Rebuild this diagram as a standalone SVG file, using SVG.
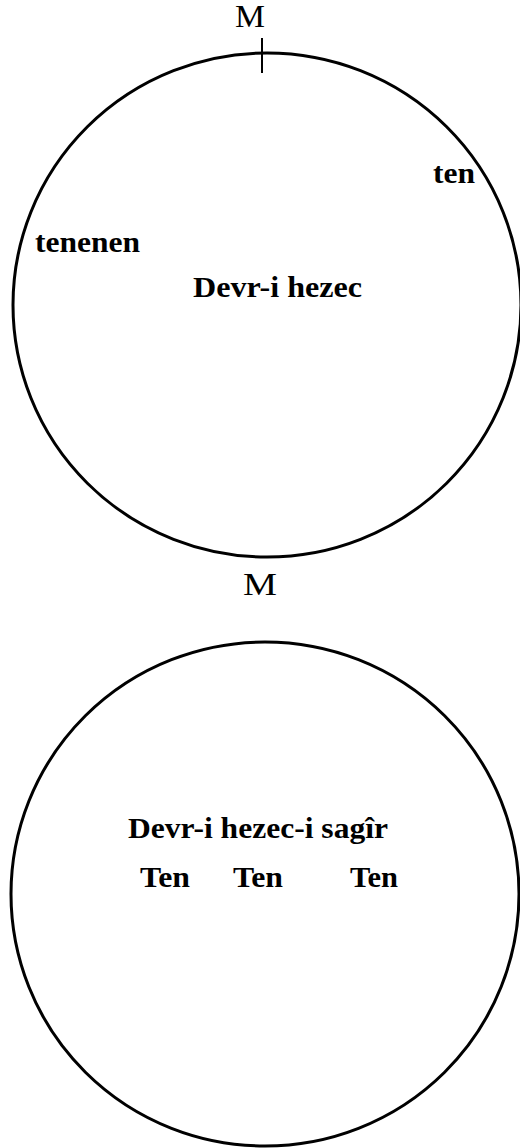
<svg xmlns="http://www.w3.org/2000/svg" width="520" height="1148" viewBox="0 0 520 1148">
<style>
.ring{fill:none;stroke:#000;stroke-width:3}
.b{font-family:"Liberation Serif","Times New Roman",serif;font-weight:bold;font-size:30px;fill:#000}
.r{font-family:"Liberation Serif","Times New Roman",serif;font-size:32px;fill:#000}
</style>
<rect width="520" height="1148" fill="#fff"/>
<g id="circle-top">
<ellipse class="ring" cx="267" cy="305" rx="254" ry="252"/>
<line x1="262" y1="38" x2="262" y2="73" stroke="#000" stroke-width="2"/>
<text class="r" x="250" y="27" text-anchor="middle" textLength="30" lengthAdjust="spacingAndGlyphs">M</text>
<text class="b" x="433" y="183" textLength="42" lengthAdjust="spacingAndGlyphs">ten</text>
<text class="b" x="35" y="252" textLength="105" lengthAdjust="spacingAndGlyphs">tenenen</text>
<text class="b" x="193" y="297" textLength="169" lengthAdjust="spacingAndGlyphs">Devr-i hezec</text>
<text class="r" x="243" y="595" textLength="34" lengthAdjust="spacingAndGlyphs">M</text>
</g>
<g id="circle-bottom">
<ellipse class="ring" cx="265" cy="894" rx="254" ry="252"/>
<text class="b" x="128" y="838" textLength="260" lengthAdjust="spacingAndGlyphs">Devr-i hezec-i sagîr</text>
<text class="b" x="140" y="887" textLength="50" lengthAdjust="spacingAndGlyphs">Ten</text>
<text class="b" x="233" y="887" textLength="50" lengthAdjust="spacingAndGlyphs">Ten</text>
<text class="b" x="350" y="887" textLength="48" lengthAdjust="spacingAndGlyphs">Ten</text>
</g>
<g id="connectors"/>
</svg>
